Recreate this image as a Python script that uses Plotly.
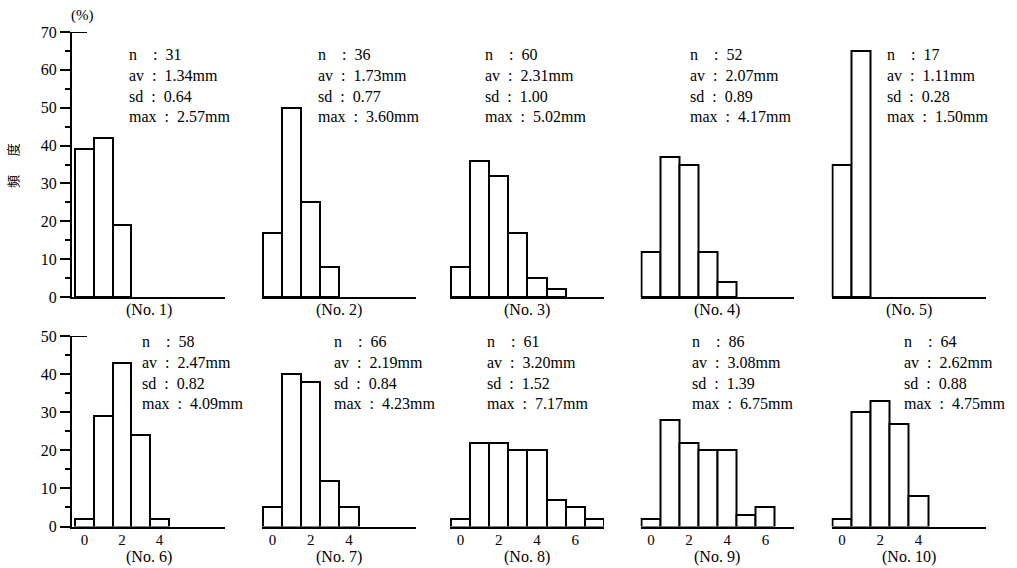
import plotly.graph_objects as go

# ---- data (percent frequency per 1 mm class, class index 0..7) ----
no1 = [39, 42, 19]
no2 = [17, 50, 25, 8]
no3 = [8, 36, 32, 17, 5, 2]
no4 = [12, 37, 35, 12, 4]
no5 = [35, 65]
no6 = [2, 29, 43, 24, 2]
no7 = [5, 40, 38, 12, 5]
no8 = [2, 22, 22, 20, 20, 7, 5, 2]
no9 = [2, 28, 22, 20, 20, 3, 5]
no10 = [2, 30, 33, 27, 8]

series = [no1, no2, no3, no4, no5, no6, no7, no8, no9, no10]
names = ["(No. 1)", "(No. 2)", "(No. 3)", "(No. 4)", "(No. 5)",
         "(No. 6)", "(No. 7)", "(No. 8)", "(No. 9)", "(No. 10)"]
n_vals = ["31", "36", "60", "52", "17", "58", "66", "61", "86", "64"]
av_vals = ["1.34", "1.73", "2.31", "2.07", "1.11", "2.47", "2.19", "3.20", "3.08", "2.62"]
sd_vals = ["0.64", "0.77", "1.00", "0.89", "0.28", "0.82", "0.84", "1.52", "1.39", "0.88"]
max_vals = ["2.57", "3.60", "5.02", "4.17", "1.50", "4.09", "4.23", "7.17", "6.75", "4.75"]
x_ticks_bottom = [[0, 2, 4], [0, 2, 4], [0, 2, 4, 6], [0, 2, 4, 6], [0, 2, 4]]
y_top_ticks = [0, 10, 20, 30, 40, 50, 60, 70]
y_bot_ticks = [0, 10, 20, 30, 40, 50]

W, H = 1017, 568
FONT = "Liberation Serif"

# panel pixel geometry
col_left = [72, 262, 450, 640.5, 831.5]
col_right = [225, 416, 604, 794, 985.5]
row_top = [32, 336]      # pixel y of top of value range
row_bot = [297, 526.5]   # pixel y of zero
text_dx = [[55, 54, 33, 47.5, 53.5], [68, 70, 35, 49.5, 70.5]]
text_top = [44, 331]
label_y = [310, 557]

fig = go.Figure()
layout = dict(
    width=W, height=H, autosize=False,
    margin=dict(l=0, r=0, t=0, b=0, pad=0),
    paper_bgcolor="white", plot_bgcolor="white",
    showlegend=False, bargap=0,
    font=dict(family=FONT, size=16, color="black"),
)
annotations = []
shapes = []

for i, vals in enumerate(series):
    r, c = divmod(i, 5)
    k = i + 1
    xa = "x" if k == 1 else f"x{k}"
    ya = "y" if k == 1 else f"y{k}"
    fig.add_trace(go.Bar(
        x=list(range(len(vals))), y=vals, width=1,
        marker=dict(color="white", line=dict(color="black", width=2)),
        xaxis=xa, yaxis=ya, hoverinfo="skip", cliponaxis=False,
    ))
    xdom = [col_left[c] / W, col_right[c] / W]
    ydom = [1 - row_bot[r] / H, 1 - row_top[r] / H]
    xrange = [-0.66, 7.5] if c == 0 else [-0.55, 7.5]
    xaxis = dict(
        domain=xdom, range=xrange, anchor=ya, automargin=False,
        showline=True, linecolor="black", linewidth=2,
        showgrid=False, zeroline=False, fixedrange=True,
        ticks="",
    )
    if r == 0:
        xaxis["showticklabels"] = False
    else:
        xaxis["tickmode"] = "array"
        xaxis["tickvals"] = x_ticks_bottom[c]
        xaxis["ticktext"] = [str(v) for v in x_ticks_bottom[c]]
        xaxis["tickfont"] = dict(family=FONT, size=15)
        xaxis["ticklabelstandoff"] = -2
    ymax = 70 if r == 0 else 50
    yaxis = dict(
        domain=ydom, range=[0, ymax], anchor=xa, automargin=False,
        showgrid=False, zeroline=False, fixedrange=True,
    )
    if c == 0:
        yaxis.update(
            showline=True, linecolor="black", linewidth=2,
            ticks="outside", ticklen=10, tickwidth=2, tickcolor="black",
            tickmode="array", tickvals=y_top_ticks if r == 0 else y_bot_ticks,
            tickfont=dict(family=FONT, size=16),
            minor=dict(dtick=5, ticklen=5, tickwidth=2, tickcolor="black", ticks="outside"),
        )
        # cap at top of the axis
        shapes.append(dict(
            type="line", xref=f"{xa} domain", yref=ya,
            x0=0, x1=15 / (col_right[c] - col_left[c]), y0=ymax, y1=ymax,
            line=dict(color="black", width=2),
        ))
    else:
        yaxis.update(showline=False, showticklabels=False, ticks="")
    layout["xaxis" if k == 1 else f"xaxis{k}"] = xaxis
    layout["yaxis" if k == 1 else f"yaxis{k}"] = yaxis

    sp = "&nbsp;"
    txt = (f"n{sp*4}:{sp*2}{n_vals[i]}<br>"
           f"av{sp*2}:{sp*2}{av_vals[i]}mm<br>"
           f"sd{sp*2}:{sp*2}{sd_vals[i]}<br>"
           f"max{sp*2}:{sp*2}{max_vals[i]}mm")
    annotations.append(dict(
        text=txt, xref="paper", yref="paper",
        x=(col_left[c] + text_dx[r][c]) / W, y=1 - text_top[r] / H,
        xanchor="left", yanchor="top", align="left", showarrow=False,
        font=dict(family=FONT, size=16),
    ))
    annotations.append(dict(
        text=names[i], xref="paper", yref="paper",
        x=(col_left[c] + col_right[c]) / 2 / W, y=1 - label_y[r] / H,
        xanchor="center", yanchor="middle", showarrow=False,
        font=dict(family=FONT, size=16),
    ))

annotations.append(dict(
    text="(%)", xref="paper", yref="paper", x=82 / W, y=1 - 15 / H,
    xanchor="center", yanchor="middle", showarrow=False,
    font=dict(family=FONT, size=15),
))
annotations.append(dict(
    text="頻　&nbsp;&nbsp;度", xref="paper", yref="paper", x=13 / W, y=1 - 166 / H,
    xanchor="center", yanchor="middle", showarrow=False, textangle=-90,
    font=dict(family="Noto Sans CJK JP", size=13),
))

layout["annotations"] = annotations
layout["shapes"] = shapes
fig.update_layout(**layout)
fig.write_html("out.html", config={"displayModeBar": False},
               post_script="document.body.style.margin='0';")
